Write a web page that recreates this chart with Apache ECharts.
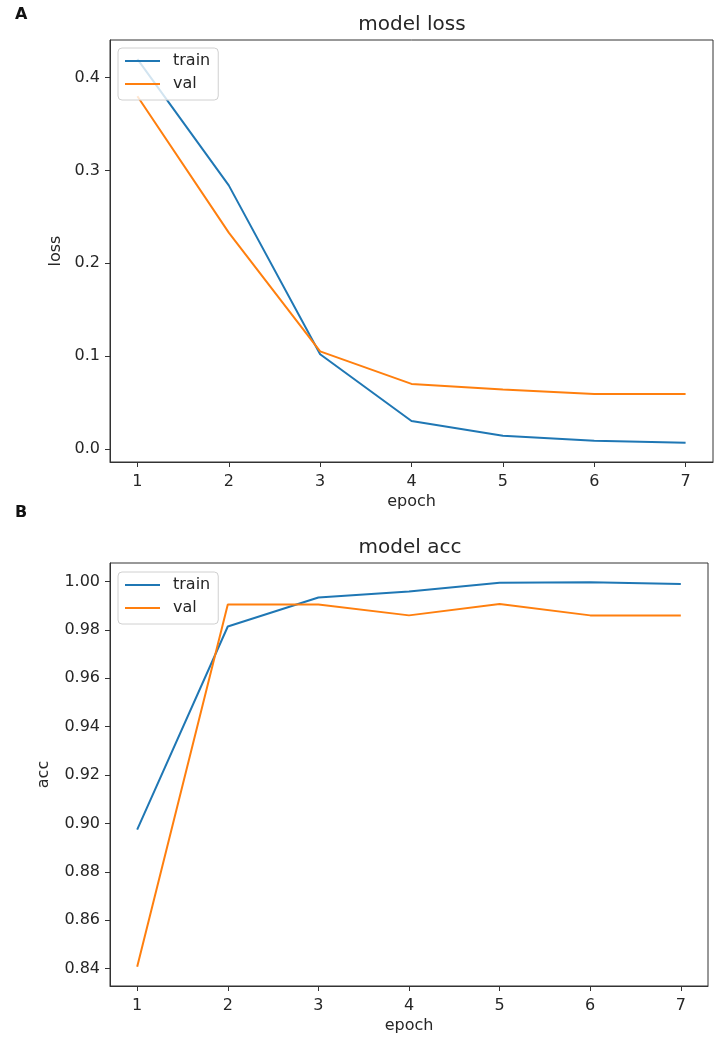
<!DOCTYPE html>
<html>
<head>
<meta charset="utf-8">
<script src="https://cdn.jsdelivr.net/npm/echarts@6/dist/echarts.min.js"></script>
<style>
  html, body { margin: 0; padding: 0; background: #fff; }
  #chart { width: 719px; height: 1047px; }
</style>
</head>
<body>
<div id="chart"></div>
<script>
// epochs and tick labels
const epochs = [1, 2, 3, 4, 5, 6, 7];
const lossTicks = [0.0, 0.1, 0.2, 0.3, 0.4];
const accTicks = [0.84, 0.86, 0.88, 0.90, 0.92, 0.94, 0.96, 0.98, 1.00];

// model loss
const lossTrain = [0.42, 0.284, 0.102, 0.030, 0.014, 0.0087, 0.0065];
const lossVal = [0.38, 0.233, 0.105, 0.070, 0.064, 0.059, 0.059];

// model acc
const accTrain = [0.8975, 0.9814, 0.9934, 0.9959, 0.9995, 0.9997, 0.999];
const accVal = [0.8408, 0.9905, 0.9905, 0.986, 0.9907, 0.986, 0.986];

const FONT = 'DejaVu Sans';
const INK = '#262626';
const BLUE = '#1f77b4';
const ORANGE = '#ff7f0e';

// matplotlib style autoscale: 5% margin on each side
function padRange(arrs) {
  const all = [].concat(...arrs);
  const lo = Math.min(...all), hi = Math.max(...all);
  const m = (hi - lo) * 0.05;
  return [lo - m, hi + m];
}
const xr = padRange([epochs]);
const lr = padRange([lossTrain, lossVal]);
const ar = padRange([accTrain, accVal]);

function pairs(vals) {
  return vals.map((v, i) => [epochs[i], v]);
}

function xAxis(gridIndex) {
  return {
    type: 'value', gridIndex: gridIndex, min: xr[0], max: xr[1],
    name: 'epoch', nameLocation: 'middle', nameGap: 32,
    nameTextStyle: { fontFamily: FONT, fontSize: 16, color: INK },
    axisLine: { show: true, onZero: false, lineStyle: { color: '#333', width: 1 } },
    axisTick: { show: true, length: 5, lineStyle: { color: '#333' }, customValues: epochs },
    axisLabel: { fontFamily: FONT, fontSize: 16, color: INK, margin: 12, customValues: epochs },
    splitLine: { show: false }
  };
}

function yAxis(gridIndex, name, range, ticks, digits, gap) {
  return {
    type: 'value', gridIndex: gridIndex, min: range[0], max: range[1],
    name: name, nameLocation: 'middle', nameGap: gap,
    nameTextStyle: { fontFamily: FONT, fontSize: 16, color: INK },
    axisLine: { show: true, onZero: false, lineStyle: { color: '#333', width: 1 } },
    axisTick: { show: true, length: 5, lineStyle: { color: '#333' }, customValues: ticks },
    axisLabel: {
      fontFamily: FONT, fontSize: 16, color: INK, margin: 10, customValues: ticks,
      formatter: v => v.toFixed(digits)
    },
    splitLine: { show: false }
  };
}

function legend(top) {
  return {
    orient: 'vertical', left: 118, top: top,
    data: ['train', 'val'],
    icon: 'rect', itemWidth: 35, itemHeight: 2, itemGap: 7,
    padding: [5, 8, 8, 7],
    backgroundColor: 'rgba(255,255,255,0.8)',
    borderColor: '#d0d0d0', borderWidth: 1, borderRadius: 4,
    textStyle: { fontFamily: FONT, fontSize: 16, color: INK, lineHeight: 16, padding: [0, 0, 0, 8] }
  };
}

function line(name, color, xi, vals) {
  return {
    name: name, type: 'line', xAxisIndex: xi, yAxisIndex: xi,
    data: pairs(vals), showSymbol: false, symbol: 'none',
    lineStyle: { color: color, width: 2 }, itemStyle: { color: color },
    animation: false
  };
}

const chart = echarts.init(document.getElementById('chart'));
chart.setOption({
  backgroundColor: '#fff',
  animation: false,
  title: [
    { text: 'model loss', left: 407, top: 10, textAlign: 'center',
      textStyle: { fontFamily: FONT, fontSize: 20, fontWeight: 'normal', color: INK } },
    { text: 'model acc', left: 405, top: 533, textAlign: 'center',
      textStyle: { fontFamily: FONT, fontSize: 20, fontWeight: 'normal', color: INK } }
  ],
  graphic: [
    { type: 'text', left: 15, top: 7, style: { text: 'A', font: 'bold 16px ' + FONT, fill: '#111' } },
    { type: 'text', left: 15, top: 505, style: { text: 'B', font: 'bold 16px ' + FONT, fill: '#111' } }
  ],
  grid: [
    { left: 110, top: 40, width: 603, height: 422, show: true, borderColor: '#333', borderWidth: 1 },
    { left: 110, top: 563, width: 598, height: 423, show: true, borderColor: '#333', borderWidth: 1 }
  ],
  legend: [legend(48), legend(572)],
  xAxis: [xAxis(0), xAxis(1)],
  yAxis: [
    yAxis(0, 'loss', lr, lossTicks, 1, 45),
    yAxis(1, 'acc', ar, accTicks, 2, 58)
  ],
  series: [
    line('train', BLUE, 0, lossTrain),
    line('val', ORANGE, 0, lossVal),
    line('train', BLUE, 1, accTrain),
    line('val', ORANGE, 1, accVal)
  ]
});
</script>
</body>
</html>
